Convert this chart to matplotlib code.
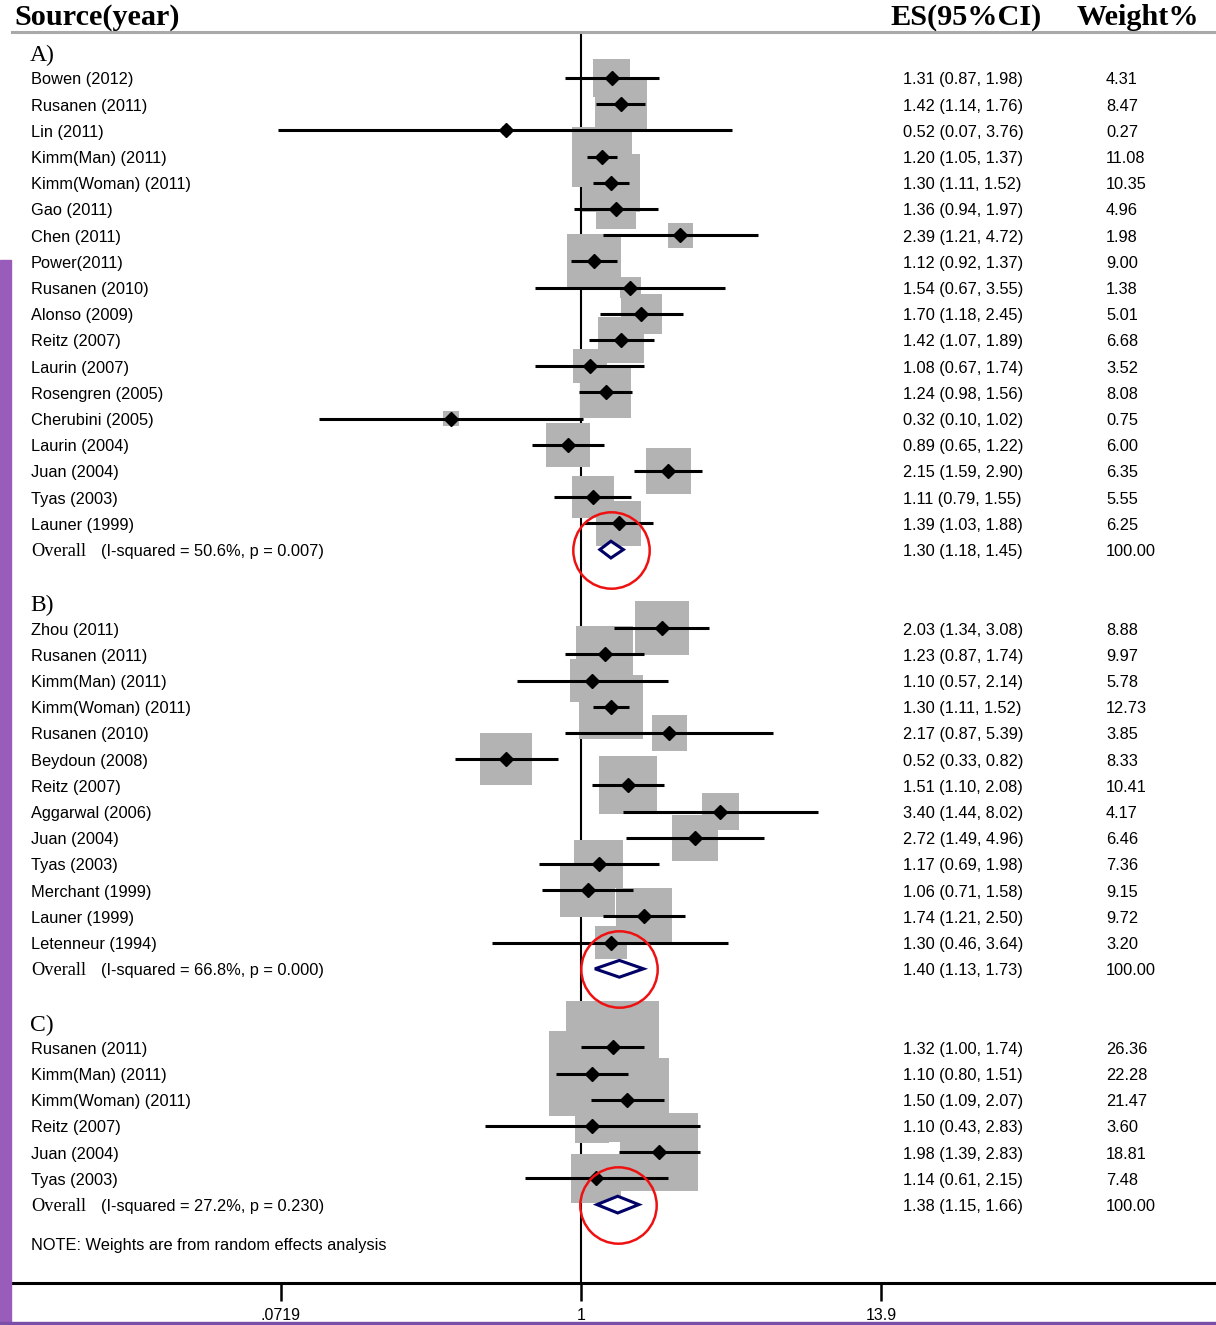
import numpy as np
import matplotlib

matplotlib.use("Agg")
import matplotlib.pyplot as plt
from matplotlib.patches import Rectangle
from matplotlib.ticker import NullLocator

plt.rcParams["font.family"] = ["Liberation Sans", "DejaVu Sans"]

# ── study estimates: A) ─────────────────────────────────────────────
A_STUDIES = [
    "Bowen (2012)", "Rusanen (2011)", "Lin (2011)", "Kimm(Man) (2011)",
    "Kimm(Woman) (2011)", "Gao (2011)", "Chen (2011)", "Power(2011)",
    "Rusanen (2010)", "Alonso (2009)", "Reitz (2007)", "Laurin (2007)",
    "Rosengren (2005)", "Cherubini (2005)", "Laurin (2004)", "Juan (2004)",
    "Tyas (2003)", "Launer (1999)",
]
A_ES = [1.31, 1.42, 0.52, 1.20, 1.30, 1.36, 2.39, 1.12, 1.54, 1.70, 1.42, 1.08, 1.24, 0.32, 0.89, 2.15, 1.11, 1.39]
A_LO = [0.87, 1.14, 0.07, 1.05, 1.11, 0.94, 1.21, 0.92, 0.67, 1.18, 1.07, 0.67, 0.98, 0.10, 0.65, 1.59, 0.79, 1.03]
A_HI = [1.98, 1.76, 3.76, 1.37, 1.52, 1.97, 4.72, 1.37, 3.55, 2.45, 1.89, 1.74, 1.56, 1.02, 1.22, 2.90, 1.55, 1.88]
A_W = [4.31, 8.47, 0.27, 11.08, 10.35, 4.96, 1.98, 9.00, 1.38, 5.01, 6.68, 3.52, 8.08, 0.75, 6.00, 6.35, 5.55, 6.25]
A_OVERALL = (1.30, 1.18, 1.45)
A_HET = "(I-squared = 50.6%, p = 0.007)"

# ── study estimates: B) ─────────────────────────────────────────────
B_STUDIES = [
    "Zhou (2011)", "Rusanen (2011)", "Kimm(Man) (2011)", "Kimm(Woman) (2011)",
    "Rusanen (2010)", "Beydoun (2008)", "Reitz (2007)", "Aggarwal (2006)",
    "Juan (2004)", "Tyas (2003)", "Merchant (1999)", "Launer (1999)",
    "Letenneur (1994)",
]
B_ES = [2.03, 1.23, 1.10, 1.30, 2.17, 0.52, 1.51, 3.40, 2.72, 1.17, 1.06, 1.74, 1.30]
B_LO = [1.34, 0.87, 0.57, 1.11, 0.87, 0.33, 1.10, 1.44, 1.49, 0.69, 0.71, 1.21, 0.46]
B_HI = [3.08, 1.74, 2.14, 1.52, 5.39, 0.82, 2.08, 8.02, 4.96, 1.98, 1.58, 2.50, 3.64]
B_W = [8.88, 9.97, 5.78, 12.73, 3.85, 8.33, 10.41, 4.17, 6.46, 7.36, 9.15, 9.72, 3.20]
B_OVERALL = (1.40, 1.13, 1.73)
B_HET = "(I-squared = 66.8%, p = 0.000)"

# ── study estimates: C) ─────────────────────────────────────────────
C_STUDIES = [
    "Rusanen (2011)", "Kimm(Man) (2011)", "Kimm(Woman) (2011)",
    "Reitz (2007)", "Juan (2004)", "Tyas (2003)",
]
C_ES = [1.32, 1.10, 1.50, 1.10, 1.98, 1.14]
C_LO = [1.00, 0.80, 1.09, 0.43, 1.39, 0.61]
C_HI = [1.74, 1.51, 2.07, 2.83, 2.83, 2.15]
C_W = [26.36, 22.28, 21.47, 3.60, 18.81, 7.48]
C_OVERALL = (1.38, 1.15, 1.66)
C_HET = "(I-squared = 27.2%, p = 0.230)"

X_TICKS = [0.0719, 1, 13.9]
X_TICK_LABELS = [".0719", "1", "13.9"]

PANELS = [
    ("A)", A_STUDIES, A_ES, A_LO, A_HI, A_W, A_OVERALL, A_HET),
    ("B)", B_STUDIES, B_ES, B_LO, B_HI, B_W, B_OVERALL, B_HET),
    ("C)", C_STUDIES, C_ES, C_LO, C_HI, C_W, C_OVERALL, C_HET),
]

# ── layout (pixels on a 1216 x 1325 canvas) ──────────────────────────
W_PX, H_PX = 1216, 1325
fig = plt.figure(figsize=(W_PX / 100, H_PX / 100), dpi=100)
ax_left, ax_right, ax_top, ax_bottom = 12, 1216, 32, 1283
ax = fig.add_axes([
    ax_left / W_PX, 1 - ax_bottom / H_PX,
    (ax_right - ax_left) / W_PX, (ax_bottom - ax_top) / H_PX,
])

# log axis: 1 sits at x=581, .0719 / 13.9 sit 300 px either side
x_null, px_per_ln = 581, 300 / np.log(13.9)
ax.set_xscale("log")
ax.set_xlim(np.exp((ax_left - x_null) / px_per_ln), np.exp((ax_right - x_null) / px_per_ln))

# rows: first study at y=78, 26.2 px per row
y0, row_h = 78, 26.2
ax.set_ylim((ax_bottom - y0) / row_h, (ax_top - y0) / row_h)


def ax_x(px):
    return (px - ax_left) / (ax_right - ax_left)


trans = matplotlib.transforms.blended_transform_factory(ax.transAxes, ax.transData)
name_x, het_x, es_x, wt_x = ax_x(31), ax_x(101), ax_x(903), ax_x(1106)
row_fs = 11.8
txt_dy = 0.07  # nudge text down onto the marker row
box_gray = "#b3b3b3"

ax.axvline(1, color="black", lw=1.5, zorder=1)

row = -1
for label, studies, es, lo, hi, wts, overall, het in PANELS:
    ax.text(ax_x(30), row + 0.15, label, transform=trans, va="center",
            family="Liberation Serif", fontsize=17)
    rows = np.arange(row + 1, row + 1 + len(studies))

    # box area proportional to weight
    ax.scatter(es, rows, s=np.array(wts) * 168, marker="s", color=box_gray,
               linewidths=0, zorder=2)
    ax.hlines(rows, lo, hi, color="black", lw=2.2, zorder=3)
    ax.plot(es, rows, "D", color="black", ms=7, zorder=4)

    for r, name, e, l, h, w in zip(rows, studies, es, lo, hi, wts):
        ty = r + txt_dy
        ax.text(name_x, ty, name, transform=trans, va="center", fontsize=row_fs)
        ax.text(es_x, ty, f"{e:.2f} ({l:.2f}, {h:.2f})", transform=trans,
                va="center", fontsize=row_fs)
        ax.text(wt_x, ty, f"{w:.2f}", transform=trans, va="center", fontsize=row_fs)

    # pooled estimate
    r_ov = rows[-1] + 1
    o_es, o_lo, o_hi = overall
    dh = 0.32
    ax.fill([o_lo, o_es, o_hi, o_es], [r_ov, r_ov - dh, r_ov, r_ov + dh],
            facecolor="white", edgecolor="#000066", lw=2.2, zorder=5)
    ax.plot(o_es, r_ov, "o", ms=55, mfc="none", mec="#ee1111", mew=1.8, zorder=6)
    ty = r_ov + txt_dy
    ax.text(name_x, ty, "Overall", transform=trans, va="center",
            family="Liberation Serif", fontsize=13.2)
    ax.text(het_x, ty, het, transform=trans, va="center", fontsize=row_fs)
    ax.text(es_x, ty, f"{o_es:.2f} ({o_lo:.2f}, {o_hi:.2f})", transform=trans,
            va="center", fontsize=row_fs)
    ax.text(wt_x, ty, "100.00", transform=trans, va="center", fontsize=row_fs)
    row = r_ov + 2

ax.text(name_x, row - 0.5 + txt_dy, "NOTE: Weights are from random effects analysis",
        transform=trans, va="center", fontsize=row_fs)

# axes frame
for side in ("left", "right"):
    ax.spines[side].set_visible(False)
ax.spines["top"].set_color("#a9a9a9")
ax.spines["top"].set_linewidth(2.2)
ax.spines["bottom"].set_linewidth(2.2)
ax.set_yticks([])
ax.xaxis.set_minor_locator(NullLocator())
ax.set_xticks(X_TICKS, X_TICK_LABELS)
ax.tick_params(axis="x", length=13, width=1.8, pad=5, labelsize=11.5)

# header
hdr = dict(family="Liberation Serif", fontsize=21.8, weight="bold", va="baseline")
hy = 1 - 25 / H_PX
fig.text(14 / W_PX, hy, "Source(year)", **hdr)
fig.text(890 / W_PX, hy, "ES(95%CI)", **hdr)
fig.text(1077 / W_PX, hy, "Weight%", **hdr)

# purple page edges
fig.patches.append(Rectangle((0, 0), 11 / W_PX, (H_PX - 260) / H_PX,
                             transform=fig.transFigure, color="#9a5cba", zorder=10))
fig.patches.append(Rectangle((0, 0), 1, 3 / H_PX, transform=fig.transFigure,
                             color="#7b4fa8", zorder=10))

fig.savefig("out.png", dpi=100)
